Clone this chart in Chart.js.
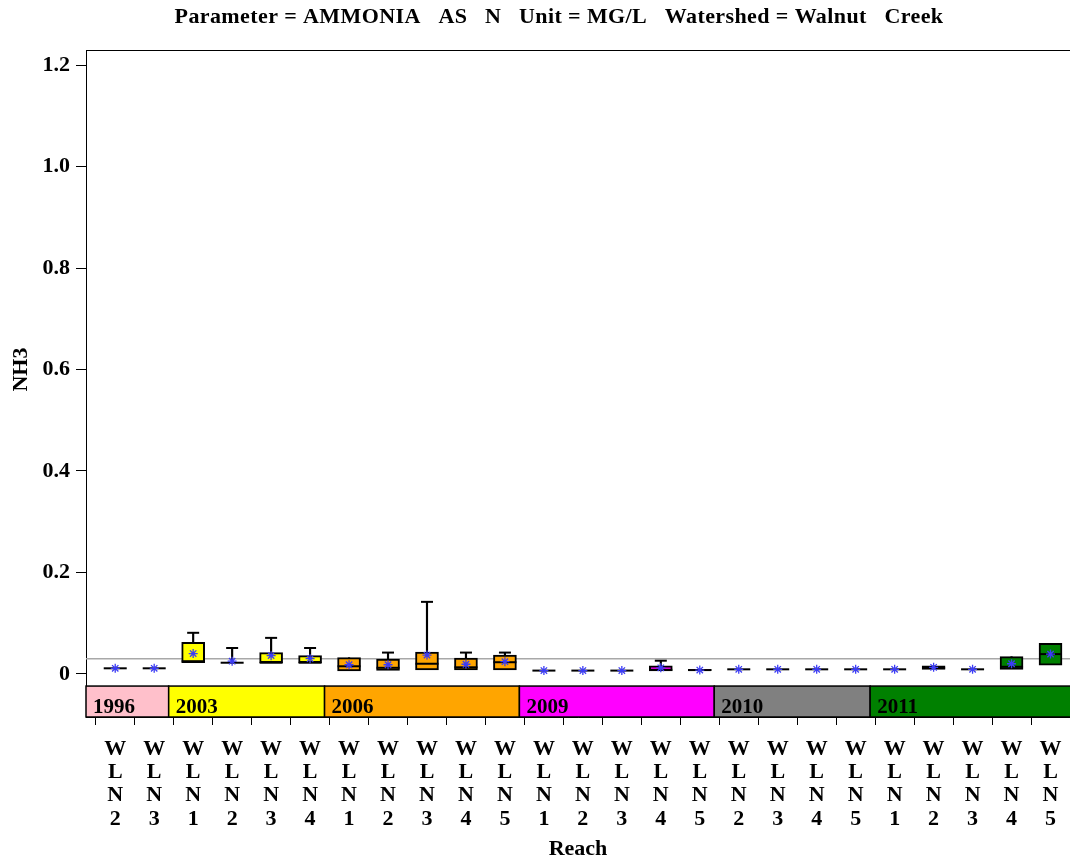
<!DOCTYPE html>
<html>
<head>
<meta charset="utf-8">
<script src="https://cdn.jsdelivr.net/npm/chart.js@4.4.1/dist/chart.umd.min.js"></script>
<style>
    body { margin: 0; background: #fff; }
    #wrap { width: 1070px; height: 863px; }
</style>
</head>
<body>
<div id="wrap"><canvas id="boxChart" width="1070" height="863"></canvas></div>
<script>
// Reach categories and sampling year of each box
const categories = ['WLN2', 'WLN3', 'WLN1', 'WLN2', 'WLN3', 'WLN4', 'WLN1', 'WLN2', 'WLN3', 'WLN4', 'WLN5',
    'WLN1', 'WLN2', 'WLN3', 'WLN4', 'WLN5', 'WLN2', 'WLN3', 'WLN4', 'WLN5', 'WLN1', 'WLN2', 'WLN3', 'WLN4', 'WLN5'];
const years = [1996, 1996, 2003, 2003, 2003, 2003, 2006, 2006, 2006, 2006, 2006,
    2009, 2009, 2009, 2009, 2009, 2010, 2010, 2010, 2010, 2011, 2011, 2011, 2011, 2011];

// Box statistics (MG/L)
const q1 =     [0.011, 0.011, 0.022, 0.022, 0.022, 0.022, 0.006, 0.007, 0.008, 0.008, 0.008,
    0.0065, 0.0065, 0.0065, 0.006, 0.0065, 0.009, 0.009, 0.009, 0.009, 0.009, 0.009, 0.009, 0.009, 0.017];
const median = [0.011, 0.011, 0.025, 0.022, 0.022, 0.022, 0.015, 0.012, 0.020, 0.013, 0.023,
    0.0065, 0.0065, 0.0065, 0.008, 0.0075, 0.009, 0.009, 0.009, 0.009, 0.009, 0.012, 0.009, 0.014, 0.039];
const q3 =     [0.011, 0.011, 0.062, 0.022, 0.042, 0.036, 0.032, 0.029, 0.043, 0.031, 0.037,
    0.0065, 0.0065, 0.0065, 0.016, 0.009, 0.009, 0.009, 0.009, 0.009, 0.009, 0.016, 0.009, 0.034, 0.060];
const maxVal = [0.011, 0.011, 0.081, 0.051, 0.071, 0.051, 0.032, 0.042, 0.142, 0.042, 0.042,
    0.0065, 0.0065, 0.0065, 0.026, 0.009, 0.009, 0.009, 0.009, 0.009, 0.009, 0.016, 0.009, 0.034, 0.060];
const mean =   [0.011, 0.011, 0.040, 0.025, 0.036, 0.030, 0.018, 0.018, 0.037, 0.019, 0.024,
    0.0065, 0.0065, 0.0065, 0.012, 0.0075, 0.009, 0.009, 0.009, 0.009, 0.009, 0.013, 0.009, 0.020, 0.039];

const yTicks = [0, 0.2, 0.4, 0.6, 0.8, 1.0, 1.2];
const refLine = 0.03;

const yearColors = { 1996: '#ffc0cb', 2003: '#ffff00', 2006: '#ffa500', 2009: '#ff00ff', 2010: '#808080', 2011: '#008000' };
const FONT = "'Liberation Serif', 'DejaVu Serif', serif";
const TITLE = 'Parameter = AMMONIA   AS   N   Unit = MG/L   Watershed = Walnut   Creek';
const BAND_TOP = -0.024;

// Year bands below zero, the grey reference line, titles
const yearBands = {
    id: 'yearBands',
    beforeDatasetsDraw(chart) {
        const { ctx, chartArea, scales } = chart;
        const x = scales.x, y = scales.y;
        ctx.save();
        let ry = y.getPixelForValue(refLine);
        ctx.strokeStyle = '#a8a8a8';
        ctx.lineWidth = 1.5;
        ctx.beginPath();
        ctx.moveTo(chartArea.left, ry);
        ctx.lineTo(chartArea.right, ry);
        ctx.stroke();

        // contiguous runs of years
        let groups = [];
        for (let i = 0; i < years.length; i++) {
            if (!groups.length || groups[groups.length - 1].year !== years[i]) {
                groups.push({ year: years[i], start: i });
            }
        }
        const top = y.getPixelForValue(BAND_TOP);
        const bottom = chartArea.bottom;
        for (let g = 0; g < groups.length; g++) {
            let x0 = g === 0 ? chartArea.left : x.getPixelForValue(groups[g].start - 0.5) - 5;
            let x1 = g === groups.length - 1 ? chartArea.right + 2 : x.getPixelForValue(groups[g + 1].start - 0.5) - 5;
            ctx.fillStyle = yearColors[groups[g].year];
            ctx.fillRect(x0, top, x1 - x0, bottom - top);
            ctx.strokeStyle = '#000';
            ctx.lineWidth = 1.5;
            ctx.strokeRect(x0, top, x1 - x0, bottom - top);
            ctx.fillStyle = '#000';
            ctx.font = 'bold 21px ' + FONT;
            ctx.textBaseline = 'alphabetic';
            ctx.fillText(String(groups[g].year), x0 + 7, bottom - 4);
        }

        // y axis title, centred on the tick range
        ctx.translate(21, y.getPixelForValue(0.6));
        ctx.rotate(-Math.PI / 2);
        ctx.font = 'bold 22px ' + FONT;
        ctx.textAlign = 'center';
        ctx.textBaseline = 'middle';
        ctx.fillText('NH3', 0, 0);
        ctx.restore();
    },
    afterDraw(chart) {
        const { ctx, chartArea } = chart;
        ctx.save();
        ctx.strokeStyle = '#000';
        ctx.lineWidth = 1;
        ctx.beginPath();
        ctx.moveTo(chartArea.left, chartArea.top + 0.5);
        ctx.lineTo(chartArea.right, chartArea.top + 0.5);
        ctx.stroke();

        ctx.fillStyle = '#000';
        ctx.font = 'bold 22px ' + FONT;
        ctx.letterSpacing = '0.4px';
        ctx.textAlign = 'center';
        ctx.textBaseline = 'middle';
        ctx.fillText(TITLE, 559, 17);
        ctx.restore();
    }
};

const boxFill = years.map(function (yr) { return yearColors[yr]; });

const boxData = categories.map(function (c, i) { return { x: i, y: [q1[i], q3[i]] }; });
const whiskerData = categories.map(function (c, i) { return { x: i, y: [q3[i], maxVal[i]] }; });
const capData = categories.map(function (c, i) { return { x: i, y: maxVal[i] > q3[i] ? maxVal[i] : null }; });
const medianData = categories.map(function (c, i) { return { x: i, y: median[i] }; });
const meanData = categories.map(function (c, i) { return { x: i, y: mean[i] }; });

const ctx = document.getElementById('boxChart').getContext('2d');
new Chart(ctx, {
    data: {
        datasets: [
            {
                type: 'scatter',
                label: 'Mean',
                data: meanData,
                pointStyle: 'star',
                radius: 4.5,
                borderWidth: 1.3,
                borderColor: '#3c3cf5',
                backgroundColor: '#3c3cf5',
                order: 0
            },
            {
                type: 'scatter',
                label: 'Median',
                data: medianData,
                pointStyle: 'line',
                radius: 11.5,
                borderWidth: 2,
                borderColor: '#000',
                order: 1
            },
            {
                type: 'scatter',
                label: 'Cap',
                data: capData,
                pointStyle: 'line',
                radius: 6,
                borderWidth: 2,
                borderColor: '#000',
                order: 1
            },
            {
                type: 'bar',
                label: 'Box',
                data: boxData,
                backgroundColor: boxFill,
                borderColor: '#000',
                borderWidth: 2,
                borderSkipped: false,
                barThickness: 23,
                grouped: false,
                order: 2
            },
            {
                type: 'bar',
                label: 'Whisker',
                data: whiskerData,
                backgroundColor: '#000',
                borderWidth: 0,
                barThickness: 1.5,
                grouped: false,
                order: 3
            }
        ]
    },
    options: {
        responsive: false,
        animation: false,
        layout: { padding: { top: 50, left: 0, right: 0, bottom: 0 }, autoPadding: false },
        plugins: {
            legend: { display: false },
            tooltip: { enabled: false },
            title: { display: false }
        },
        scales: {
            x: {
                type: 'linear',
                min: -0.75,
                max: 24.5,
                offset: false,
                afterBuildTicks: function (scale) {
                    scale.ticks = categories.map(function (c, i) { return { value: i }; });
                },
                afterFit: function (scale) {
                    scale.height = 146;
                    scale.paddingLeft = 0;
                    scale.paddingRight = 0;
                },
                grid: { drawOnChartArea: false, drawTicks: true, tickLength: 8, color: '#000' },
                border: { display: true, color: '#000', width: 1 },
                ticks: {
                    autoSkip: false,
                    maxRotation: 0,
                    padding: 13,
                    color: '#000',
                    font: { family: FONT, size: 22, weight: 'bold', lineHeight: 1.05 },
                    callback: function (v) { return categories[v] ? categories[v].split('') : ''; }
                },
                title: {
                    display: true,
                    text: 'Reach',
                    color: '#000',
                    font: { family: FONT, size: 22, weight: 'bold' },
                    padding: { top: 0, bottom: 0 }
                }
            },
            y: {
                min: -0.085,
                max: 1.23,
                afterBuildTicks: function (scale) {
                    scale.ticks = yTicks.map(function (v) { return { value: v }; });
                },
                afterFit: function (scale) {
                    scale.width = 86;
                    scale.paddingTop = 0;
                    scale.paddingBottom = 0;
                },
                grid: { drawOnChartArea: false, drawTicks: true, tickLength: 10, color: '#000' },
                border: { display: true, color: '#000', width: 1 },
                ticks: {
                    padding: 6,
                    color: '#000',
                    font: { family: FONT, size: 22, weight: 'bold' },
                    callback: function (v) { return v === 0 ? '0' : v.toFixed(1); }
                }
            }
        }
    },
    plugins: [yearBands]
});
</script>
</body>
</html>
